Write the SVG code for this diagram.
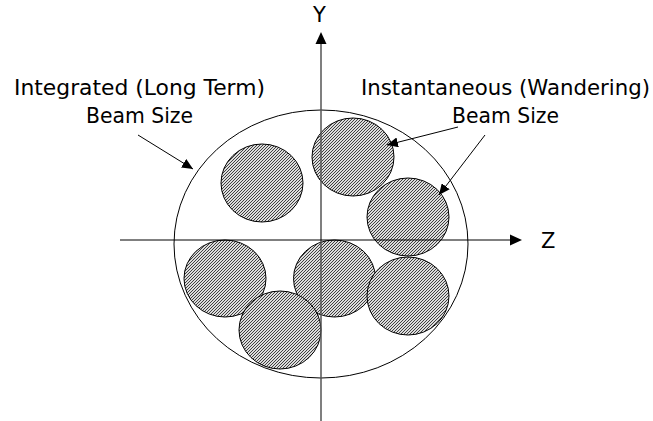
<svg xmlns="http://www.w3.org/2000/svg" width="653" height="421" viewBox="0 0 653 421">
<style>
.lbl{font-family:"DejaVu Sans","Verdana",sans-serif;font-size:21px;fill:#000}
.beam{fill:url(#hatch);stroke:#000;stroke-width:1}
.ptr{stroke:#000;stroke-width:1;fill:none;marker-end:url(#ah)}
</style>
<defs>
<pattern id="hatch" patternUnits="userSpaceOnUse" width="3" height="3">
<rect width="3" height="3" fill="#dcdcdc"/>
<path d="M-1,1 L1,-1 M0,3 L3,0 M2,4 L4,2" stroke="#222" stroke-width="0.85"/>
</pattern>
<marker id="ah" markerWidth="12" markerHeight="10" refX="11" refY="5" orient="auto" markerUnits="userSpaceOnUse">
<path d="M0,0 L11,5 L0,10 Z" fill="#000"/>
</marker>
</defs>
<rect width="653" height="421" fill="#fff"/>
<g id="integrated">
<ellipse cx="321" cy="244" rx="147" ry="134" fill="none" stroke="#000" stroke-width="1"/>
</g>
<g id="beams">
<ellipse id="b1" class="beam" cx="262" cy="183" rx="41" ry="39"/>
<ellipse id="b2" class="beam" cx="353" cy="157" rx="41" ry="39"/>
<ellipse id="b3" class="beam" cx="408" cy="217" rx="41" ry="39"/>
<ellipse id="b4" class="beam" cx="225" cy="278.5" rx="41" ry="38.5"/>
<ellipse id="b6" class="beam" cx="334.5" cy="278.5" rx="41" ry="38.5"/>
<ellipse id="b7" class="beam" cx="408" cy="296" rx="41" ry="39"/>
<ellipse id="b5" class="beam" cx="280" cy="330" rx="41" ry="39"/>
</g>
<g id="axes">
<line x1="321" y1="421" x2="321" y2="43" stroke="#555" stroke-width="1.5"/>
<path d="M321,32 L326.5,44 L315.5,44 Z" fill="#000"/>
<line x1="120" y1="240" x2="511" y2="240" stroke="#000" stroke-width="1"/>
<path d="M522,240 L510,234.5 L510,245.5 Z" fill="#000"/>
</g>
<g id="connectors">
<line class="ptr" x1="138" y1="135" x2="193" y2="169"/>
<line class="ptr" x1="458" y1="127" x2="387" y2="145"/>
<line class="ptr" x1="485" y1="135" x2="439" y2="195"/>
</g>
<g id="labels">
<text class="lbl" x="313" y="22">Y</text>
<text class="lbl" x="541" y="248">Z</text>
<text class="lbl" x="14" y="95" textLength="251" lengthAdjust="spacingAndGlyphs">Integrated (Long Term)</text>
<text class="lbl" x="86" y="123" textLength="107" lengthAdjust="spacingAndGlyphs">Beam Size</text>
<text class="lbl" x="361" y="95" textLength="289" lengthAdjust="spacingAndGlyphs">Instantaneous (Wandering)</text>
<text class="lbl" x="452" y="123" textLength="107" lengthAdjust="spacingAndGlyphs">Beam Size</text>
</g>
</svg>
